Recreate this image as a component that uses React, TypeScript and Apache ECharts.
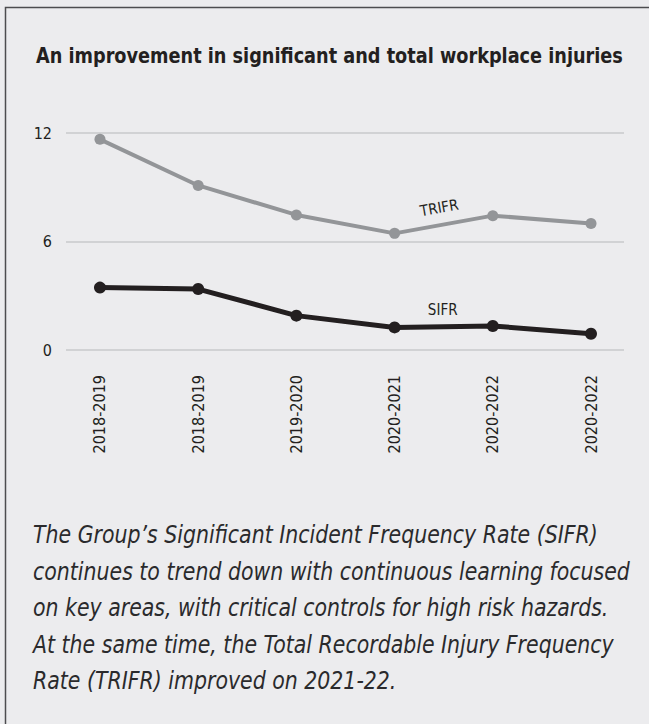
import React, { useEffect, useRef } from "react";
import * as echarts from "echarts";

const categories = ["2018-2019", "2018-2019", "2019-2020", "2020-2021", "2020-2022", "2020-2022"];
const trifr = [11.65, 9.1, 7.47, 6.45, 7.43, 6.99];
const sifr = [3.45, 3.37, 1.9, 1.25, 1.33, 0.9];
const yTicks = [0, 6, 12];
const titleText = "An improvement in significant and total workplace injuries";
const captionLines = [
  "The Group\u2019s Significant Incident Frequency Rate (SIFR)",
  "continues to trend down with continuous learning focused",
  "on key areas, with critical controls for high risk hazards.",
  "At the same time, the Total Recordable Injury Frequency",
  "Rate (TRIFR) improved on 2021-22.",
];

const NARROW = "'DejaVu Sans Condensed', 'Liberation Sans', sans-serif";
const BG = "#ececee";
const DARK = "#231f20";
const GREY = "#939598";

export default function App() {
  const ref = useRef<HTMLDivElement>(null);
  useEffect(() => {
    document.body.style.margin = "0";
    document.body.style.background = BG;
    const chart = echarts.init(ref.current!, null, { renderer: "svg" });
    const idx = categories.map((_, i) => i);
    chart.setOption({
      animation: false,
      backgroundColor: BG,
      grid: { left: 66, right: 25, top: 133, height: 217 },
      xAxis: {
        type: "value",
        min: -0.346,
        max: 5.336,
        axisLine: { show: false },
        axisTick: { show: false },
        splitLine: { show: false },
        axisLabel: {
          customValues: idx,
          formatter: (v: number) => categories[Math.round(v)],
          rotate: 90,
          margin: 25,
          fontSize: 16,
          fontFamily: NARROW,
          color: DARK,
        },
      },
      yAxis: {
        type: "value",
        min: yTicks[0],
        max: yTicks[yTicks.length - 1],
        interval: 6,
        axisLine: { show: false },
        axisTick: { show: false },
        splitLine: { lineStyle: { color: "#d1d2d4", width: 2 } },
        axisLabel: { margin: 14, fontSize: 16, fontFamily: NARROW, color: DARK },
      },
      series: [
        {
          type: "line",
          name: "TRIFR",
          data: trifr.map((v, i) => [i, v]),
          symbol: "circle",
          symbolSize: 11,
          itemStyle: { color: GREY },
          lineStyle: { color: GREY, width: 4 },
          markPoint: {
            symbol: "circle",
            symbolSize: 0,
            data: [{ coord: [3.455, 7.86], value: "TRIFR" }],
            label: {
              show: true,
              position: "inside",
              formatter: "TRIFR",
              rotate: 10,
              fontSize: 15,
              fontFamily: NARROW,
              color: DARK,
            },
          },
        },
        {
          type: "line",
          name: "SIFR",
          data: sifr.map((v, i) => [i, v]),
          symbol: "circle",
          symbolSize: 12,
          itemStyle: { color: DARK },
          lineStyle: { color: DARK, width: 5 },
          markPoint: {
            symbol: "circle",
            symbolSize: 0,
            data: [{ coord: [3.49, 2.21], value: "SIFR" }],
            label: {
              show: true,
              position: "inside",
              formatter: "SIFR",
              fontSize: 15,
              fontFamily: NARROW,
              color: DARK,
            },
          },
        },
      ],
      graphic: [
        {
          type: "rect",
          shape: { x: 5.5, y: 7.5, width: 700, height: 800 },
          style: { fill: "none", stroke: "#4d4d4f", lineWidth: 1.5 },
          silent: true,
        },
        {
          type: "text",
          x: 36,
          y: 45,
          scaleX: 0.895,
          style: {
            text: titleText,
            font: `bold 22px ${NARROW}`,
            fill: DARK,
          },
        },
        {
          type: "text",
          x: 33,
          y: 517,
          scaleX: 0.95,
          style: {
            text: captionLines.join("\n"),
            font: `italic 24px ${NARROW}`,
            lineHeight: 36.5,
            fill: "#2a2a2c",
          },
        },
      ],
    });
    return () => chart.dispose();
  }, []);
  return <div ref={ref} style={{ position: "absolute", left: 0, top: 0, width: 649, height: 724 }} />;
}
